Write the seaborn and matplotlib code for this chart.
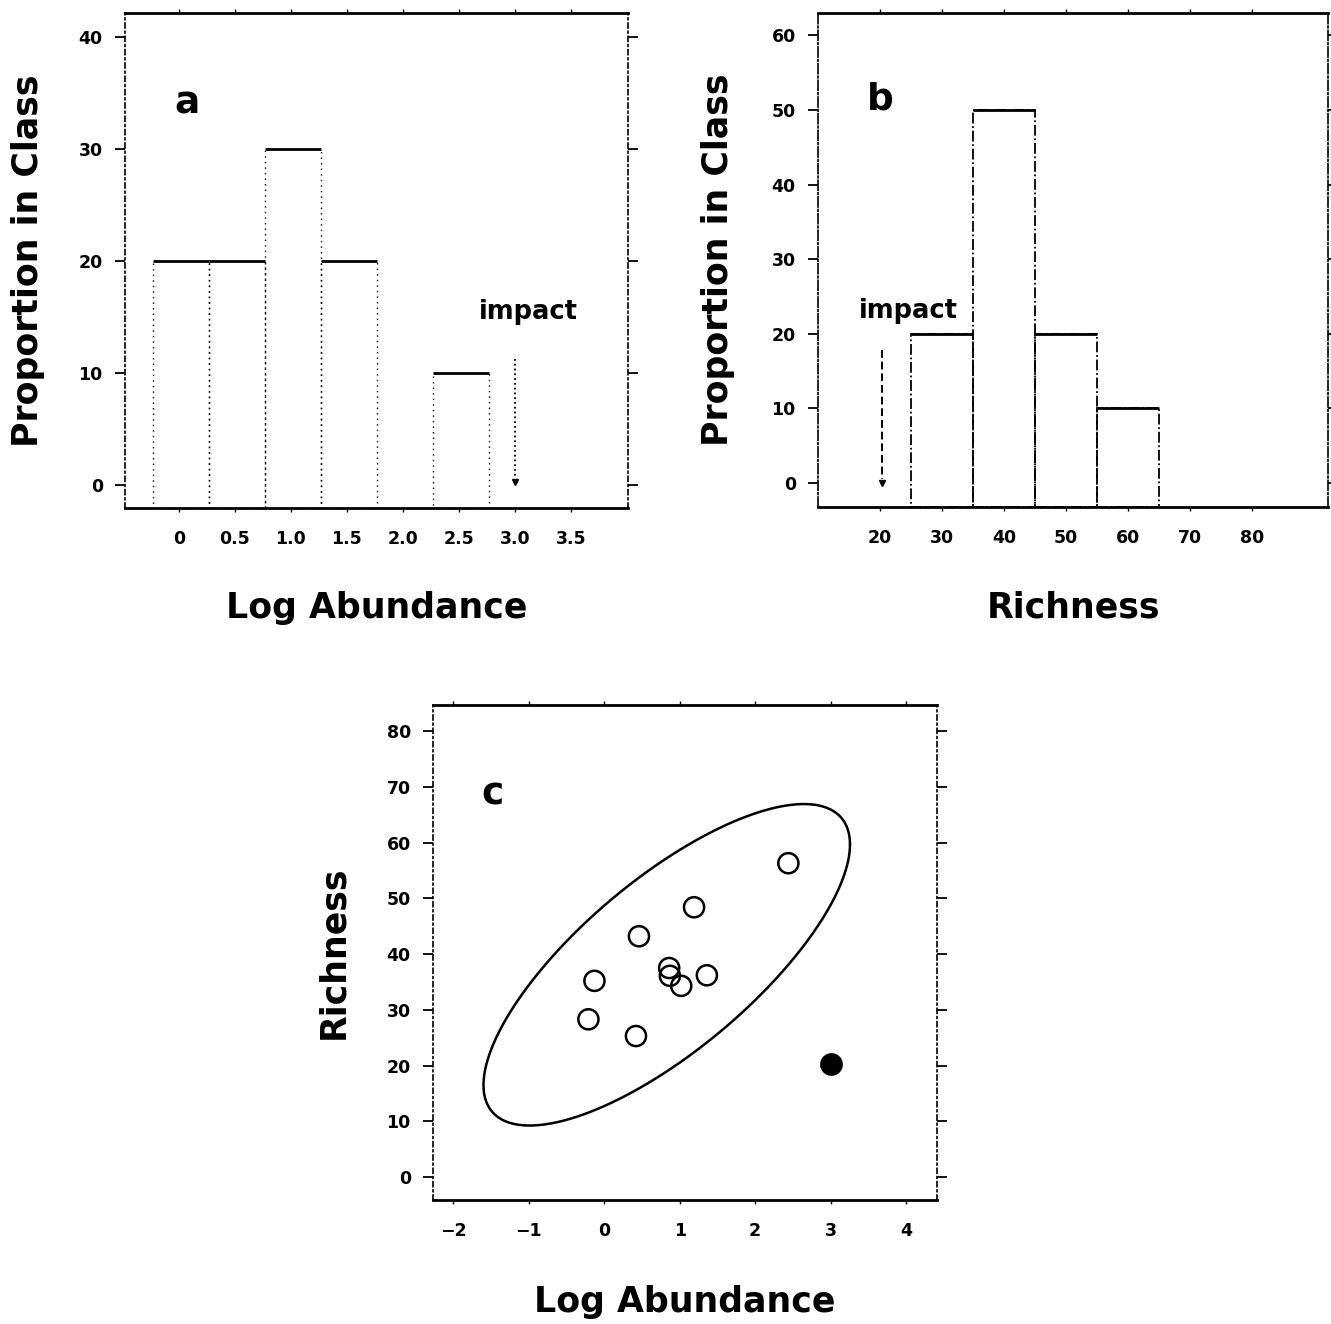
import numpy as np
import seaborn as sns
import matplotlib.pyplot as plt

# panel a: log abundance classes, % of reference sites
abund_edges = [-0.23, 0.27, 0.77, 1.27, 1.77, 2.27, 2.77]
abund_prop = [20, 20, 30, 20, 0, 10]
abund_ticks = [0, 0.5, 1.0, 1.5, 2.0, 2.5, 3.0, 3.5]
abund_ticklabels = ["0", "0.5", "1.0", "1.5", "2.0", "2.5", "3.0", "3.5"]

# panel b: richness classes, % of reference sites
rich_edges = [25, 35, 45, 55, 65]
rich_prop = [20, 50, 20, 10]
rich_ticks = [20, 30, 40, 50, 60, 70, 80]

# panel c: reference sites and the impact site
ref_abund = [2.44, 1.19, 0.46, 0.86, 0.87, 1.02, 1.36, -0.13, -0.21, 0.42]
ref_rich = [56.3, 48.4, 43.2, 37.5, 36.1, 34.3, 36.2, 35.2, 28.3, 25.3]
impact_abund = 3.0
impact_rich = 20.3
ellipse_k = 3.15

sns.set_style("ticks")
plt.rcParams['font.family'] = ['DejaVu Sans']
plt.rcParams['font.weight'] = 'bold'
plt.rcParams['text.color'] = 'black'
plt.rcParams['axes.labelcolor'] = 'black'
plt.rcParams['xtick.color'] = 'black'
plt.rcParams['ytick.color'] = 'black'

LABEL_FS = 25
TICK_FS = 12.5

fig = plt.figure(figsize=(13.31, 13.24), dpi=100)
ax_a = fig.add_axes([0.0939, 0.6163, 0.3779, 0.3739])
ax_b = fig.add_axes([0.6146, 0.6171, 0.3832, 0.3731])
ax_c = fig.add_axes([0.3253, 0.0937, 0.3787, 0.3739])


def style_axes(ax, side_ls):
    for s in ["top", "bottom"]:
        ax.spines[s].set_linewidth(2)
        ax.spines[s].set_color("black")
    for s in ["left", "right"]:
        ax.spines[s].set_linewidth(1.2)
        ax.spines[s].set_color("black")
        ax.spines[s].set_linestyle(side_ls)
    ax.tick_params(axis="y", left=True, right=True, direction="out",
                   length=7, width=1.3, pad=9, labelsize=TICK_FS, colors="black")
    ax.tick_params(axis="x", bottom=True, top=True, direction="out",
                   length=3, width=1, pad=13, labelsize=TICK_FS, colors="black")
    for lab in ax.get_xticklabels() + ax.get_yticklabels():
        lab.set_fontweight("heavy")


def draw_bars(ax, edges, props, lo, side_ls, side_lw):
    edges = np.asarray(edges, dtype=float)
    props = np.asarray(props, dtype=float)
    left = edges[:-1]
    width = np.diff(edges)
    keep = props > 0
    ax.bar(left[keep], props[keep] - lo, width=width[keep], bottom=lo,
           align="edge", fill=False, edgecolor="black",
           linewidth=side_lw, linestyle=side_ls)
    ax.hlines(props[keep], left[keep], (left + width)[keep],
              color="black", lw=2)


# ---- panel a
ylo_a = -2.05
draw_bars(ax_a, abund_edges, abund_prop, ylo_a, (0, (1, 3)), 1.0)
ax_a.plot([impact_abund, impact_abund], [11.2, 0.6], ls=":", color="black", lw=1.3)
ax_a.plot([impact_abund], [0.3], marker="v", ms=5, color="black")
ax_a.text(3.12, 15.4, "impact", ha="center", va="center", fontsize=18.5, fontweight="heavy")
ax_a.set_xlim(-0.482, 4.01)
ax_a.set_ylim(ylo_a, 42.1)
ax_a.set_xticks(abund_ticks)
ax_a.set_xticklabels(abund_ticklabels)
ax_a.set_yticks([0, 10, 20, 30, 40])
style_axes(ax_a, (0, (3, 2, 1, 2)))
ax_a.text(0.123, 0.818, "a", transform=ax_a.transAxes, ha="center", va="center",
          fontsize=27, fontweight="heavy")
ax_a.set_xlabel("Log Abundance", fontsize=LABEL_FS, fontweight="heavy", va="center")
ax_a.set_ylabel("Proportion in Class", fontsize=LABEL_FS, fontweight="heavy", va="center")
ax_a.xaxis.set_label_coords(0.5, -0.202)
ax_a.yaxis.set_label_coords(-0.193, 0.5)

# ---- panel b
ylo_b = -3.2
draw_bars(ax_b, rich_edges, rich_prop, ylo_b, (0, (6, 1.5, 1, 1.5)), 1.3)
ax_b.plot([impact_rich, impact_rich], [17.9, 0.6], ls=(0, (4, 2)), color="black", lw=1.4)
ax_b.plot([impact_rich], [0.0], marker="v", ms=5, color="black")
ax_b.text(24.5, 23.1, "impact", ha="center", va="center", fontsize=18.5, fontweight="heavy")
ax_b.set_xlim(10.0, 92.3)
ax_b.set_ylim(ylo_b, 63.0)
ax_b.set_xticks(rich_ticks)
ax_b.set_yticks([0, 10, 20, 30, 40, 50, 60])
style_axes(ax_b, (0, (6, 1.5, 1, 1.5)))
ax_b.text(0.122, 0.824, "b", transform=ax_b.transAxes, ha="center", va="center",
          fontsize=27, fontweight="heavy")
ax_b.set_xlabel("Richness", fontsize=LABEL_FS, fontweight="heavy", va="center")
ax_b.set_ylabel("Proportion in Class", fontsize=LABEL_FS, fontweight="heavy", va="center")
ax_b.xaxis.set_label_coords(0.5, -0.204)
ax_b.yaxis.set_label_coords(-0.196, 0.5)

# ---- panel c
pts = np.column_stack([ref_abund, ref_rich])
mu = pts.mean(axis=0)
chol = np.linalg.cholesky(np.cov(pts, rowvar=False))
t = np.linspace(0, 2 * np.pi, 400)
ell = mu[:, None] + ellipse_k * chol @ np.vstack([np.cos(t), np.sin(t)])
ax_c.plot(ell[0], ell[1], color="black", lw=1.8)
sns.scatterplot(x=ref_abund, y=ref_rich, ax=ax_c, s=210, marker="o",
                facecolor="none", edgecolor="black", linewidth=1.8)
sns.scatterplot(x=[impact_abund], y=[impact_rich], ax=ax_c, s=230, marker="o",
                color="black", edgecolor="black")
ax_c.set_xlim(-2.27, 4.41)
ax_c.set_ylim(-4.1, 84.7)
ax_c.set_xticks([-2, -1, 0, 1, 2, 3, 4])
ax_c.set_yticks([0, 10, 20, 30, 40, 50, 60, 70, 80])
style_axes(ax_c, (0, (3, 2, 1, 2)))
ax_c.text(0.119, 0.818, "c", transform=ax_c.transAxes, ha="center", va="center",
          fontsize=27, fontweight="heavy")
ax_c.set_xlabel("Log Abundance", fontsize=LABEL_FS, fontweight="heavy", va="center")
ax_c.set_ylabel("Richness", fontsize=LABEL_FS, fontweight="heavy", va="center")
ax_c.xaxis.set_label_coords(0.5, -0.206)
ax_c.yaxis.set_label_coords(-0.198, 0.5)

fig.savefig("out.png", dpi=100)
